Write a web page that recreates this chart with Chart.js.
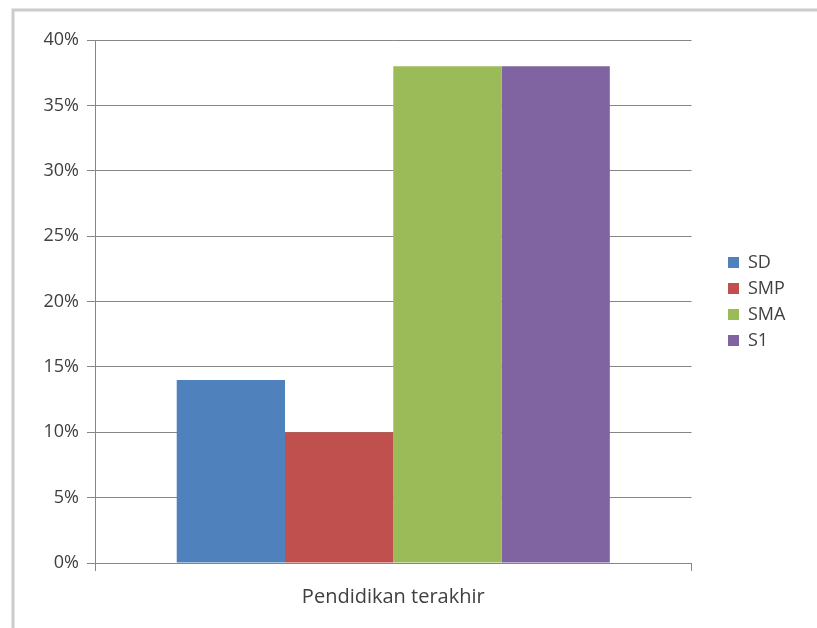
<!DOCTYPE html>
<html>
<head>
<meta charset="utf-8">
<script src="https://cdn.jsdelivr.net/npm/chart.js@4/dist/chart.umd.min.js"></script>
<style>
html,body{margin:0;padding:0;background:#fff;}
#wrap{position:relative;width:817px;height:628px;}
</style>
</head>
<body>
<div id="wrap"><canvas id="c" width="817" height="628"></canvas></div>
<script>
const categories = ["Pendidikan terakhir"];
const seriesNames = ["SD", "SMP", "SMA", "S1"];
const seriesValues = [[0.14], [0.10], [0.38], [0.38]];
const seriesColors = ["#4f81bd", "#c0504d", "#9bbb59", "#8064a2"];
const yTicks = [0, 0.05, 0.10, 0.15, 0.20, 0.25, 0.30, 0.35, 0.40];

const FONT = "'Open Sans', 'Liberation Sans', sans-serif";

const frame = {
  id: 'frame',
  beforeDraw(chart) {
    const ctx = chart.ctx;
    ctx.save();
    ctx.fillStyle = '#ffffff';
    ctx.fillRect(0, 0, chart.width, chart.height);
    ctx.strokeStyle = '#cccccc';
    ctx.lineWidth = 3;
    ctx.beginPath();
    ctx.moveTo(13, 628);
    ctx.lineTo(13, 10);
    ctx.lineTo(817, 10);
    ctx.stroke();
    ctx.restore();
  }
};

const legendShift = {
  id: 'legendShift',
  afterLayout(chart) {
    const lg = chart.legend;
    const dx = 728 - (lg.left + lg.options.labels.padding);
    lg.left += dx; lg.right += dx;
    const ca = chart.chartArea;
    const dy = (ca.top + ca.bottom) / 2 - (lg.top + lg.bottom) / 2;
    lg.top += dy; lg.bottom += dy;
  }
};

new Chart(document.getElementById('c'), {
  type: 'bar',
  data: {
    labels: categories,
    datasets: seriesNames.map((n, i) => ({
      label: n,
      data: seriesValues[i],
      backgroundColor: seriesColors[i],
      borderWidth: 0,
      barPercentage: 1.0,
      categoryPercentage: 0.726
    }))
  },
  options: {
    responsive: false,
    animation: false,
    devicePixelRatio: 1,
    layout: { padding: { top: 40, left: 0, right: 50, bottom: 0 } },
    plugins: {
      tooltip: { enabled: false },
      legend: {
        position: 'right',
        align: 'center',
        labels: {
          boxWidth: 11, boxHeight: 11, padding: 8,
          color: '#404040',
          font: { family: FONT, size: 18 }
        }
      }
    },
    scales: {
      x: {
        afterFit(scale) { scale.height = 65; },
        grid: { display: true, drawOnChartArea: false, offset: true, tickLength: 8, color: '#868686', lineWidth: 1 },
        border: { display: true, color: '#868686', width: 1 },
        ticks: { color: '#404040', font: { family: FONT, size: 20 }, padding: 14 }
      },
      y: {
        min: 0, max: 0.4,
        afterFit(scale) { scale.width = 95; },
        afterBuildTicks(scale) { scale.ticks = yTicks.map(v => ({ value: v })); },
        grid: { color: '#868686', lineWidth: 1, tickLength: 8 },
        border: { display: true, color: '#868686', width: 1 },
        ticks: {
          color: '#404040', padding: 8,
          font: { family: FONT, size: 18 },
          callback: v => Math.round(v * 100) + '%'
        }
      }
    }
  },
  plugins: [frame, legendShift]
});
</script>
</body>
</html>
